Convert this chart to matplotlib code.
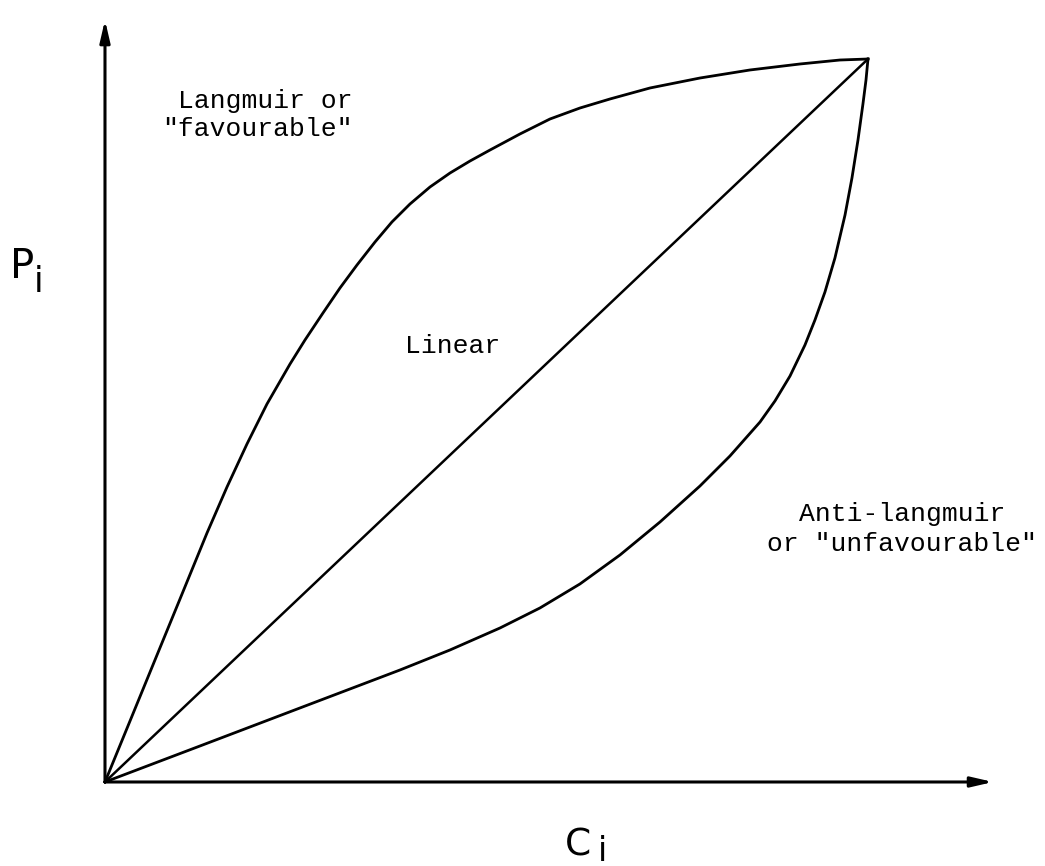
import numpy as np
import matplotlib
matplotlib.use('Agg')
from matplotlib import pyplot as plt

# isotherm shapes, C_i and P_i in % of the saturation point
c_fav = [0, 3.28, 6.55, 9.83, 13.37, 15.99, 18.61, 21.23, 24.25, 26.21,
         28.57, 30.80, 33.03, 35.39, 37.61, 39.97, 42.6, 45.22, 47.84, 50.46,
         54.39, 58.32, 62.25, 66.19, 71.43, 77.98, 84.53, 91.09, 96.33, 100]
p_fav = [0, 8.44, 16.87, 25.31, 34.44, 40.80, 46.75, 52.28, 57.81, 61.13,
         64.87, 68.33, 71.51, 74.69, 77.46, 79.94, 82.30, 84.23, 85.89, 87.41,
         89.63, 91.70, 93.22, 94.47, 95.99, 97.37, 98.48, 99.31, 99.86, 100]

c_lin = [0, 100]
p_lin = [0, 100]

c_unf = [0, 12.45, 25.56, 38.66, 45.22, 51.77, 57.01, 62.25, 67.50, 72.74,
         77.98, 81.91, 85.85, 87.81, 89.78, 91.74, 93.05, 94.36, 95.67, 96.99,
         97.90, 98.69, 99.34, 99.74, 100]
p_unf = [0, 4.98, 10.24, 15.49, 18.26, 21.30, 24.07, 27.39, 31.40, 35.96,
         40.94, 45.09, 49.79, 52.70, 56.15, 60.44, 63.90, 67.77, 72.48, 78.42,
         83.54, 88.80, 93.78, 97.10, 100]

x_end = 116.4   # end of the C axis arrow
y_end = 105.4   # end of the P axis arrow

fig = plt.figure(figsize=(10.45, 8.66), dpi=100)
ax = fig.add_axes([0, 0, 1, 1])
ax.set_xlim(-13.76, 123.2)
ax.set_ylim(-11.62, 108.16)
ax.axis('off')

lw = 2.0
ax.plot(c_fav, p_fav, color='black', lw=lw, solid_joinstyle='round')
ax.plot(c_lin, p_lin, color='black', lw=1.8)
ax.plot(c_unf, p_unf, color='black', lw=lw, solid_joinstyle='round')

arr = dict(arrowstyle='-|>,head_length=1.3,head_width=0.3', lw=2.2,
           color='black', shrinkA=0, shrinkB=0)
ax.annotate('', xy=(x_end, 0), xytext=(0, 0), arrowprops=arr)
ax.annotate('', xy=(0, y_end), xytext=(0, 0), arrowprops=arr)

mono = 'Liberation Mono'
ax.text(32.5, 92.25, 'Langmuir or\n"favourable"', family=mono, fontsize=19,
        ha='right', va='center', multialignment='right', linespacing=1.25)
ax.text(45.5, 60.3, 'Linear', family=mono, fontsize=19,
        ha='center', va='center')
ax.text(104.5, 35.0, 'Anti-langmuir\nor "unfavourable"', family=mono,
        fontsize=19, ha='center', va='center', multialignment='center',
        linespacing=1.3)

# axis labels
ax.text(-12.45, 69.7, 'P', fontsize=29, ha='left', va='baseline')
ax.text(-9.4, 67.8, 'i', fontsize=25, ha='left', va='baseline')
ax.text(60.3, -10.1, 'C', fontsize=27, ha='left', va='baseline')
ax.text(64.6, -10.9, 'i', fontsize=24, ha='left', va='baseline')

fig.savefig('out.png', dpi=100)
